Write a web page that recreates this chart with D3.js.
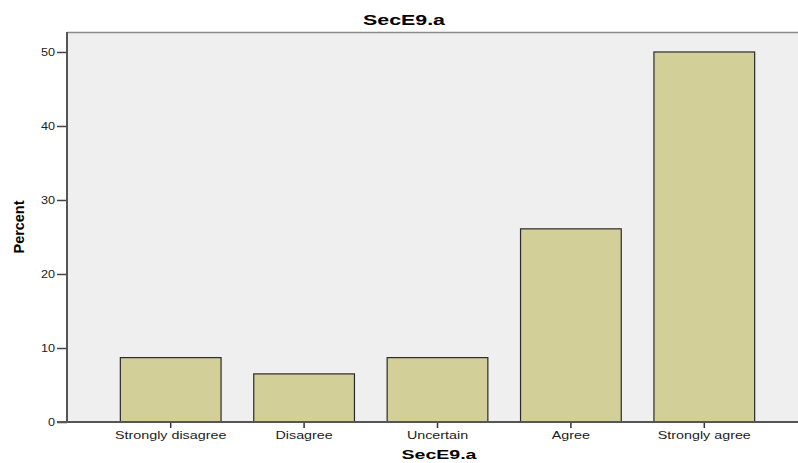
<!DOCTYPE html>
<html><head><meta charset="utf-8">
<script src="https://cdn.jsdelivr.net/npm/d3@7"></script>
<style>body{margin:0;background:#fff}svg{display:block}</style>
</head><body>
<svg id="c" width="798" height="463"></svg>
<script>
const categories = ["Strongly disagree","Disagree","Uncertain","Agree","Strongly agree"];
const percents = [8.7, 6.5, 8.7, 26.1, 50.0];
const yTicks = [0,10,20,30,40,50];
const title = "SecE9.a";
const xTitle = "SecE9.a";
const yTitle = "Percent";

const svg = d3.select("#c");
const plot = {left:67, top:32, right:800, bottom:422};
const y = d3.scaleLinear().domain([0, 52.7]).range([plot.bottom, plot.top]);
const x = d3.scaleBand().domain(categories).range([104, 771]).paddingInner(0.245).paddingOuter(0.1225);

svg.append("rect").attr("x",plot.left).attr("y",plot.top).attr("width",plot.right-plot.left).attr("height",plot.bottom-plot.top).attr("fill","#efefef");
svg.append("line").attr("x1",plot.left).attr("x2",plot.right).attr("y1",plot.top+0.5).attr("y2",plot.top+0.5).attr("stroke","#8a8a8a").attr("stroke-width",1.5);

svg.selectAll("rect.bar").data(percents).enter().append("rect").attr("class","bar")
  .attr("x",(d,i)=>x(categories[i])).attr("width",x.bandwidth())
  .attr("y",d=>y(d)).attr("height",d=>plot.bottom-y(d))
  .attr("fill","#d3cf98").attr("stroke","#2b2b2b").attr("stroke-width",1.2);

const font = "Arial, 'Liberation Sans', sans-serif";
const yAxis = svg.append("g").attr("transform",`translate(${plot.left},0)`)
  .call(d3.axisLeft(y).tickValues(yTicks).tickSize(10).tickPadding(2).tickFormat(d3.format("d")));
yAxis.select(".domain").remove();
yAxis.selectAll("line").attr("stroke","#444").attr("stroke-width",1.5);
yAxis.selectAll("text").attr("font-family",font).attr("font-size",11).attr("fill","#222")
  .each(function(){ const l=this.getComputedTextLength(); d3.select(this).attr("textLength",l*1.15).attr("lengthAdjust","spacingAndGlyphs"); });

const xAxis = svg.append("g").attr("transform",`translate(0,${plot.bottom})`)
  .call(d3.axisBottom(x).tickSize(6).tickPadding(3));
xAxis.select(".domain").remove();
xAxis.selectAll("line").attr("stroke","#333").attr("stroke-width",1.5);
xAxis.selectAll("text").attr("font-family",font).attr("font-size",11).attr("fill","#222")
  .each(function(){ const l=this.getComputedTextLength(); d3.select(this).attr("textLength",l*1.3).attr("lengthAdjust","spacingAndGlyphs"); });

svg.append("line").attr("x1",plot.left).attr("x2",plot.left).attr("y1",plot.top).attr("y2",plot.bottom).attr("stroke","#555").attr("stroke-width",2);
svg.append("line").attr("x1",plot.left-10).attr("x2",plot.right).attr("y1",plot.bottom).attr("y2",plot.bottom).attr("stroke","#555").attr("stroke-width",2);

svg.append("text").attr("x",404).attr("y",25).attr("text-anchor","middle").attr("font-family",font).attr("font-weight","bold").attr("font-size",15)
  .attr("textLength",82).attr("lengthAdjust","spacingAndGlyphs").text(title);
svg.append("text").attr("x",439).attr("y",459).attr("text-anchor","middle").attr("font-family",font).attr("font-weight","bold").attr("font-size",12)
  .attr("textLength",75).attr("lengthAdjust","spacingAndGlyphs").text(xTitle);
svg.append("text").attr("transform","translate(24,227) rotate(-90)").attr("text-anchor","middle").attr("font-family",font).attr("font-weight","bold").attr("font-size",14)
  .attr("textLength",53).attr("lengthAdjust","spacingAndGlyphs").text(yTitle);
</script>
</body></html>
